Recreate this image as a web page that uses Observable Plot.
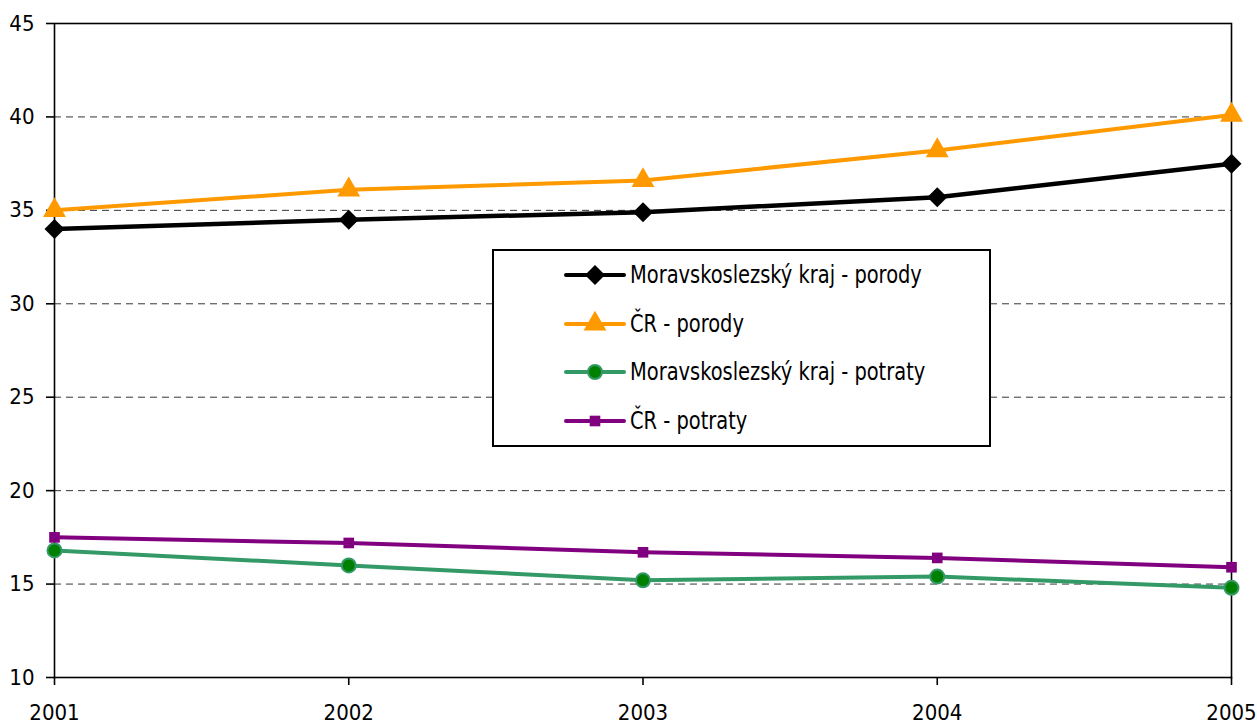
<!DOCTYPE html>
<html>
<head>
<meta charset="utf-8">
<script src="https://cdn.jsdelivr.net/npm/d3@7"></script>
<script src="https://cdn.jsdelivr.net/npm/@observablehq/plot@0.6"></script>
<style>
  html, body { margin: 0; padding: 0; background: #fff; }
  #wrap { position: relative; width: 1257px; height: 726px; font-family: "DejaVu Sans", sans-serif; font-stretch: condensed; }
  #wrap svg text { font-stretch: condensed; }
  #legend { position: absolute; left: 492px; top: 249px; width: 495px; height: 194px; border: 2px solid #000; background: #fff; box-sizing: content-box; }
  .row { position: absolute; left: 70px; height: 30px; display: flex; align-items: center; font-size: 24px; color: #000; font-stretch: condensed; white-space: nowrap; }
  .row svg { margin-right: 4px; }
  .row span { display: inline-block; transform: scaleX(0.9); transform-origin: left center; }
</style>
</head>
<body>
<div id="wrap"></div>
<script>
const years = [2001, 2002, 2003, 2004, 2005];
const msPorody = [34.0, 34.5, 34.9, 35.7, 37.5];
const crPorody = [35.0, 36.1, 36.6, 38.2, 40.1];
const msPotraty = [16.8, 16.0, 15.2, 15.4, 14.8];
const crPotraty = [17.5, 17.2, 16.7, 16.4, 15.9];
const yTicks = [10, 15, 20, 25, 30, 35, 40, 45];
const gridTicks = [15, 20, 25, 30, 35, 40];
const seriesNames = ["Moravskoslezský kraj - porody", "ČR - porody", "Moravskoslezský kraj - potraty", "ČR - potraty"];

const styles = [
  {values: msPorody, stroke: "#000000", fill: "#000000", symbol: "diamond2", r: 9, markStroke: "none", width: 4.5},
  {values: crPorody, stroke: "#FF9900", fill: "#FF9900", symbol: "triangle", r: 8.5, markStroke: "none", width: 4},
  {values: msPotraty, stroke: "#339966", fill: "#008000", symbol: "circle", r: 7, markStroke: "#339966", width: 4},
  {values: crPotraty, stroke: "#800080", fill: "#800080", symbol: "square", r: 6, markStroke: "none", width: 4}
];

const marks = [
  Plot.ruleY(gridTicks, {stroke: "#000", strokeWidth: 0.8, strokeDasharray: "7,5", strokeOpacity: 1}),
  Plot.frame({stroke: "#000", strokeWidth: 1.6}),
  Plot.axisY(yTicks, {tickSize: 8, tickPadding: 12, fontSize: 22, stroke: "#000", strokeWidth: 1.6, label: null}),
  Plot.axisX(years, {tickSize: 8, tickPadding: 19, fontSize: 22, tickFormat: d => String(d), stroke: "#000", strokeWidth: 1.6, label: null})
];
styles.forEach((s, i) => {
  const data = years.map((y, j) => ({year: y, value: s.values[j], series: seriesNames[i]}));
  marks.push(Plot.line(data, {x: "year", y: "value", stroke: s.stroke, strokeWidth: s.width}));
  marks.push(Plot.dot(data, {x: "year", y: "value", symbol: () => s.symbol, r: s.r, fill: s.fill, stroke: s.markStroke, strokeWidth: 2}));
});

const chart = Plot.plot({
  width: 1257,
  height: 726,
  marginLeft: 54,
  marginRight: 26,
  marginTop: 23,
  marginBottom: 49,
  style: {fontFamily: '"DejaVu Sans", sans-serif', fontSize: "22px", color: "#000", background: "#fff", overflow: "visible"},
  x: {domain: [2001, 2005], label: null},
  y: {domain: [10, 45], label: null},
  symbol: {type: "identity"},
  marks
});
const wrap = document.getElementById("wrap");
wrap.appendChild(chart);

// Legend (HTML overlay)
const legend = document.createElement("div");
legend.id = "legend";
const rowTops = [9, 58, 106, 155];
seriesNames.forEach((name, i) => {
  const s = styles[i];
  const row = document.createElement("div");
  row.className = "row";
  row.style.top = rowTops[i] + "px";
  const sw = d3.create("svg").attr("width", 62).attr("height", 30);
  sw.append("line").attr("x1", 2).attr("x2", 60).attr("y1", 15).attr("y2", 15)
    .attr("stroke", s.stroke).attr("stroke-width", 4).attr("stroke-linecap", "round");
  const sym = {diamond2: d3.symbolDiamond2, triangle: d3.symbolTriangle, circle: d3.symbolCircle, square: d3.symbolSquare}[s.symbol];
  sw.append("path").attr("transform", "translate(31,15)")
    .attr("d", d3.symbol(sym, s.r * s.r * Math.PI)())
    .attr("fill", s.fill).attr("stroke", s.markStroke).attr("stroke-width", 2);
  row.appendChild(sw.node());
  const t = document.createElement("span");
  t.textContent = name;
  row.appendChild(t);
  legend.appendChild(row);
});
wrap.appendChild(legend);
</script>
</body>
</html>
